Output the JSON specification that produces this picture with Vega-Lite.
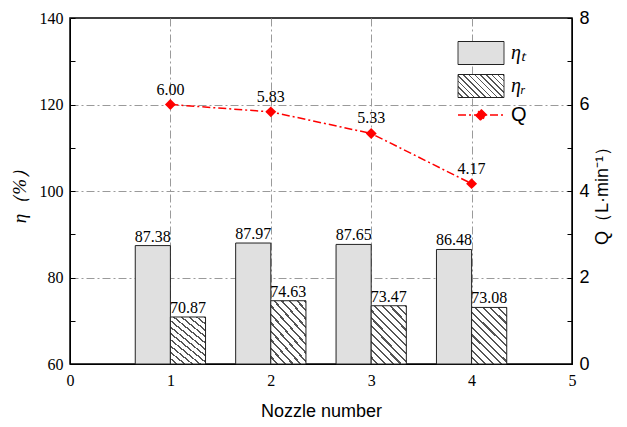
{
  "$schema": "https://vega.github.io/schema/vega-lite/v6.json",
  "autosize": {"type": "none"},
  "width": 502,
  "height": 346,
  "padding": {"left": 70, "top": 18, "right": 55, "bottom": 63},
  "background": "white",
  "config": {
    "view": {"stroke": "black", "strokeWidth": 1.5},
    "axis": {"domainColor": "black", "tickColor": "black", "labelColor": "black", "titleColor": "black"}
  },
  "datasets": {
    "bars": [
      {"nozzle": 1, "series": "ηt", "eta": 87.38},
      {"nozzle": 1, "series": "ηr", "eta": 70.87},
      {"nozzle": 2, "series": "ηt", "eta": 87.97},
      {"nozzle": 2, "series": "ηr", "eta": 74.63},
      {"nozzle": 3, "series": "ηt", "eta": 87.65},
      {"nozzle": 3, "series": "ηr", "eta": 73.47},
      {"nozzle": 4, "series": "ηt", "eta": 86.48},
      {"nozzle": 4, "series": "ηr", "eta": 73.08}
    ],
    "flow": [
      {"nozzle": 1, "series": "Q", "Q": 6.00},
      {"nozzle": 2, "series": "Q", "Q": 5.83},
      {"nozzle": 3, "series": "Q", "Q": 5.33},
      {"nozzle": 4, "series": "Q", "Q": 4.17}
    ]
  },
  "encoding": {
    "x": {
      "field": "xpos",
      "type": "quantitative",
      "scale": {"domain": [0, 5], "nice": false, "zero": false},
      "axis": {
        "values": [0, 1, 2, 3, 4, 5],
        "ticks": false,
        "grid": true,
        "gridColor": "#9a9a9a",
        "gridDash": [8, 3, 2, 3],
        "gridWidth": 1,
        "labelFont": "Liberation Serif",
        "labelFontSize": 16,
        "labelPadding": 8,
        "labelFlush": false,
        "title": "Nozzle number",
        "titleFont": "Liberation Sans",
        "titleFontSize": 18,
        "titleFontWeight": "normal",
        "titlePadding": 14
      }
    }
  },
  "layer": [
    {
      "encoding": {
        "y": {
          "field": "eta",
          "type": "quantitative",
          "scale": {"domain": [60, 140], "nice": false, "zero": false},
          "axis": {
            "orient": "left",
            "values": [60, 70, 80, 90, 100, 110, 120, 130, 140],
            "labelExpr": "datum.value % 20 == 0 ? datum.label : ''",
            "tickSize": -5,
            "labelPadding": 12,
            "grid": true,
            "gridColor": "#9a9a9a",
            "gridDash": [8, 3, 2, 3],
            "gridOpacity": {"condition": {"test": "datum.value % 20 == 0 && datum.value > 60 && datum.value < 140", "value": 1}, "value": 0},
            "labelFont": "Liberation Serif",
            "labelFontSize": 16,
            "title": "η（%）",
            "titleFont": "Liberation Serif",
            "titleFontSize": 19,
            "titleFontStyle": "italic",
            "titleFontWeight": "normal",
            "titlePadding": 10
          }
        }
      },
      "layer": [
        {
          "data": {"name": "bars"},
          "transform": [
            {"calculate": "datum.nozzle + (datum.series == 'ηt' ? -0.35 : 0)", "as": "xpos"},
            {"calculate": "datum.xpos + 0.35", "as": "xend"}
          ],
          "mark": {"type": "bar", "stroke": "#222", "strokeWidth": 1},
          "encoding": {
            "x2": {"field": "xend"},
            "y2": {"datum": 60},
            "fill": {
              "condition": {
                "test": "datum.series == 'ηr'",
                "value": {
                  "gradient": "linear", "x1": 0, "y1": 1, "x2": 0.72, "y2": -0.172,
                  "stops": [
                    {"offset": 0, "color": "#fff"}, {"offset": 0.06, "color": "#fff"}, {"offset": 0.06, "color": "#555"}, {"offset": 0.0833, "color": "#555"},
                    {"offset": 0.0833, "color": "#fff"}, {"offset": 0.1433, "color": "#fff"}, {"offset": 0.1433, "color": "#555"}, {"offset": 0.1667, "color": "#555"},
                    {"offset": 0.1667, "color": "#fff"}, {"offset": 0.2267, "color": "#fff"}, {"offset": 0.2267, "color": "#555"}, {"offset": 0.25, "color": "#555"},
                    {"offset": 0.25, "color": "#fff"}, {"offset": 0.31, "color": "#fff"}, {"offset": 0.31, "color": "#555"}, {"offset": 0.3333, "color": "#555"},
                    {"offset": 0.3333, "color": "#fff"}, {"offset": 0.3933, "color": "#fff"}, {"offset": 0.3933, "color": "#555"}, {"offset": 0.4167, "color": "#555"},
                    {"offset": 0.4167, "color": "#fff"}, {"offset": 0.4767, "color": "#fff"}, {"offset": 0.4767, "color": "#555"}, {"offset": 0.5, "color": "#555"},
                    {"offset": 0.5, "color": "#fff"}, {"offset": 0.56, "color": "#fff"}, {"offset": 0.56, "color": "#555"}, {"offset": 0.5833, "color": "#555"},
                    {"offset": 0.5833, "color": "#fff"}, {"offset": 0.6433, "color": "#fff"}, {"offset": 0.6433, "color": "#555"}, {"offset": 0.6667, "color": "#555"},
                    {"offset": 0.6667, "color": "#fff"}, {"offset": 0.7267, "color": "#fff"}, {"offset": 0.7267, "color": "#555"}, {"offset": 0.75, "color": "#555"},
                    {"offset": 0.75, "color": "#fff"}, {"offset": 0.81, "color": "#fff"}, {"offset": 0.81, "color": "#555"}, {"offset": 0.8333, "color": "#555"},
                    {"offset": 0.8333, "color": "#fff"}, {"offset": 0.8933, "color": "#fff"}, {"offset": 0.8933, "color": "#555"}, {"offset": 0.9167, "color": "#555"},
                    {"offset": 0.9167, "color": "#fff"}, {"offset": 0.9767, "color": "#fff"}, {"offset": 0.9767, "color": "#555"}, {"offset": 1, "color": "#555"}
                  ]
                }
              },
              "value": "#e0e0e0"
            }
          }
        },
        {
          "data": {"name": "bars"},
          "transform": [
            {"calculate": "datum.nozzle + (datum.series == 'ηt' ? -0.175 : 0.175)", "as": "xpos"}
          ],
          "mark": {"type": "text", "font": "Liberation Serif", "fontSize": 16, "baseline": "bottom", "dy": -1, "color": "black"},
          "encoding": {
            "text": {"field": "eta", "type": "quantitative", "format": ".2f"}
          }
        }
      ]
    },
    {
      "data": {"name": "flow"},
      "transform": [
        {"calculate": "datum.nozzle", "as": "xpos"}
      ],
      "encoding": {
        "y": {
          "field": "Q",
          "type": "quantitative",
          "scale": {"domain": [0, 8], "nice": false, "zero": false},
          "axis": {
            "orient": "right",
            "values": [0, 1, 2, 3, 4, 5, 6, 7, 8],
            "labelExpr": "datum.value % 2 == 0 ? datum.label : ''",
            "tickSize": -5,
            "labelPadding": 12,
            "grid": false,
            "labelFont": "Liberation Sans",
            "labelFontSize": 18,
            "title": "Q（L·min⁻¹）",
            "titleFont": "Liberation Sans",
            "titleFontSize": 18,
            "titleFontWeight": "normal",
            "titleAngle": 270,
            "titlePadding": 22
          }
        }
      },
      "layer": [
        {
          "mark": {"type": "line", "strokeWidth": 1.5, "strokeDash": [8, 3, 2, 3]},
          "encoding": {
            "stroke": {
              "field": "series",
              "type": "nominal",
              "scale": {"domain": ["ηt", "ηr", "Q"], "range": ["#222222", "#222222", "#ff0000"]},
              "legend": {
                "orient": "none",
                "legendX": 401,
                "legendY": 25,
                "title": null,
                "padding": 0,
                "symbolSize": 2116,
                "symbolStrokeWidth": 1,
                "rowPadding": 5,
                "labelOffset": 20,
                "labelFont": "Liberation Serif",
                "labelFontSize": 20,
                "labelFontStyle": "italic",
                "labelExpr": "datum.value == 'ηt' ? 'ηₜ' : datum.value == 'ηr' ? 'ηᵣ' : 'Q'",
                "encode": {
                  "labels": {
                    "update": {
                      "font": {"signal": "datum.value == 'Q' ? 'Liberation Sans' : 'Liberation Serif'"},
                      "fontStyle": {"signal": "datum.value == 'Q' ? 'normal' : 'italic'"}
                    }
                  },
                  "symbols": {
                    "update": {
                      "shape": {"signal": "datum.value == 'Q' ? 'M-1,0H1M0,-0.24L0.24,0L0,0.24L-0.24,0Z' : 'M-1,-0.5H1V0.5H-1Z'"},
                      "fill": {"signal": "datum.value == 'Q' ? '#ff0000' : datum.value == 'ηr' ? {gradient: 'linear', x1: 0, y1: 1, x2: 1.2, y2: 0.4, stops: [{offset: 0, color: '#fff'}, {offset: 0.06, color: '#fff'}, {offset: 0.06, color: '#555'}, {offset: 0.0833, color: '#555'}, {offset: 0.0833, color: '#fff'}, {offset: 0.1433, color: '#fff'}, {offset: 0.1433, color: '#555'}, {offset: 0.1667, color: '#555'}, {offset: 0.1667, color: '#fff'}, {offset: 0.2267, color: '#fff'}, {offset: 0.2267, color: '#555'}, {offset: 0.25, color: '#555'}, {offset: 0.25, color: '#fff'}, {offset: 0.31, color: '#fff'}, {offset: 0.31, color: '#555'}, {offset: 0.3333, color: '#555'}, {offset: 0.3333, color: '#fff'}, {offset: 0.3933, color: '#fff'}, {offset: 0.3933, color: '#555'}, {offset: 0.4167, color: '#555'}, {offset: 0.4167, color: '#fff'}, {offset: 0.4767, color: '#fff'}, {offset: 0.4767, color: '#555'}, {offset: 0.5, color: '#555'}, {offset: 0.5, color: '#fff'}, {offset: 0.56, color: '#fff'}, {offset: 0.56, color: '#555'}, {offset: 0.5833, color: '#555'}, {offset: 0.5833, color: '#fff'}, {offset: 0.6433, color: '#fff'}, {offset: 0.6433, color: '#555'}, {offset: 0.6667, color: '#555'}, {offset: 0.6667, color: '#fff'}, {offset: 0.7267, color: '#fff'}, {offset: 0.7267, color: '#555'}, {offset: 0.75, color: '#555'}, {offset: 0.75, color: '#fff'}, {offset: 0.81, color: '#fff'}, {offset: 0.81, color: '#555'}, {offset: 0.8333, color: '#555'}, {offset: 0.8333, color: '#fff'}, {offset: 0.8933, color: '#fff'}, {offset: 0.8933, color: '#555'}, {offset: 0.9167, color: '#555'}, {offset: 0.9167, color: '#fff'}, {offset: 0.9767, color: '#fff'}, {offset: 0.9767, color: '#555'}, {offset: 1, color: '#555'}]} : '#e0e0e0'"},
                      "stroke": {"signal": "datum.value == 'Q' ? '#ff0000' : '#222222'"},
                      "strokeDash": {"signal": "datum.value == 'Q' ? [8, 3, 2, 3] : [1, 0]"},
                      "strokeWidth": {"signal": "datum.value == 'Q' ? 1.5 : 1"},
                      "opacity": {"value": 1}
                    }
                  }
                }
              }
            }
          }
        },
        {
          "mark": {"type": "point", "shape": "diamond", "size": 120, "filled": true, "color": "#ff0000", "opacity": 1}
        },
        {
          "mark": {"type": "text", "font": "Liberation Serif", "fontSize": 16, "baseline": "bottom", "dy": -7, "color": "black"},
          "encoding": {
            "text": {"field": "Q", "type": "quantitative", "format": ".2f"}
          }
        }
      ]
    }
  ],
  "resolve": {"scale": {"y": "independent"}}
}
